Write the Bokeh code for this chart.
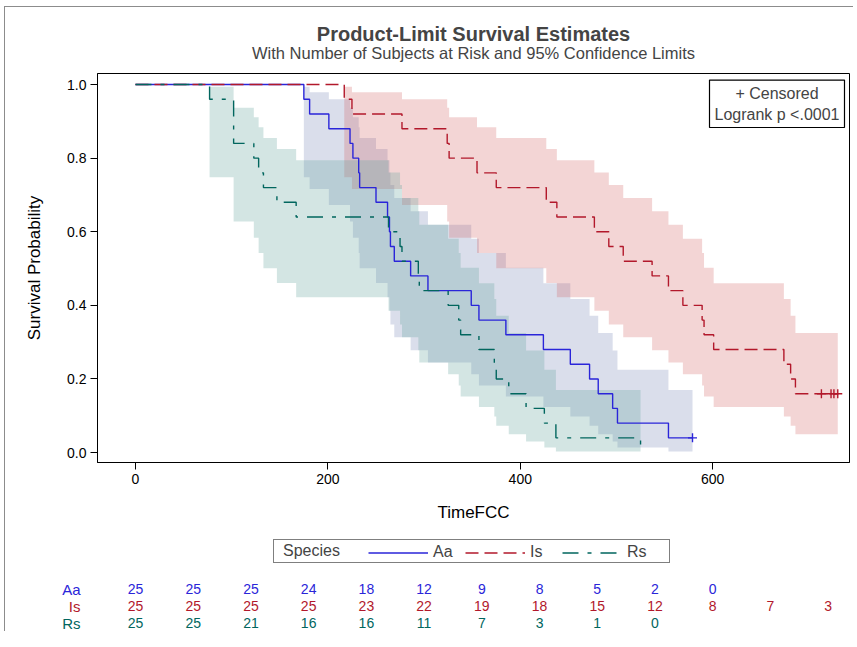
import numpy as np
from bokeh.plotting import figure
from bokeh.models import (Range1d, Title, Legend, LegendItem, Label, FixedTicker,
                          NumeralTickFormatter)
from bokeh.layouts import column
from bokeh.core.properties import value
from bokeh.embed import file_html
from bokeh.resources import INLINE

FONT = "Liberation Sans"

# ---------------- data ----------------
groups = ["Aa", "Is", "Rs"]

# Aa: event times and Kaplan-Meier survival after each event
aa_times = [175, 181, 201, 223, 226, 232, 233, 250, 262, 264, 265, 269,
            286, 304, 349, 357, 385, 424, 452, 472, 481, 496, 501, 554]
aa_surv = [0.96, 0.92, 0.88, 0.84, 0.80, 0.76, 0.72, 0.68, 0.64, 0.60, 0.56, 0.52,
           0.48, 0.44, 0.40, 0.36, 0.32, 0.28, 0.24, 0.20, 0.16, 0.12, 0.08, 0.04]
aa_lower = [0.748, 0.716, 0.673, 0.628, 0.584, 0.542, 0.501, 0.461, 0.422, 0.385, 0.348, 0.313,
            0.278, 0.245, 0.213, 0.182, 0.152, 0.124, 0.098, 0.073, 0.050, 0.030, 0.014, 0.003]
aa_upper = [0.994, 0.979, 0.960, 0.937, 0.911, 0.884, 0.855, 0.825, 0.794, 0.761, 0.727, 0.692,
            0.656, 0.619, 0.581, 0.542, 0.502, 0.460, 0.417, 0.372, 0.325, 0.277, 0.225, 0.170]
aa_cens_t = [579]
aa_cens_s = [0.04]

# Is
is_times = [217, 225, 277, 324, 326, 355, 375, 427, 438, 477, 492, 507,
            537, 554, 569, 589, 591, 601, 674, 681, 686]
is_surv = [0.96, 0.92, 0.88, 0.84, 0.80, 0.76, 0.72, 0.68, 0.64, 0.60, 0.56, 0.52,
           0.48, 0.44, 0.40, 0.36, 0.32, 0.28, 0.24, 0.20, 0.16]
is_lower = [0.748, 0.716, 0.673, 0.628, 0.584, 0.542, 0.501, 0.461, 0.422, 0.385, 0.348, 0.313,
            0.278, 0.245, 0.213, 0.182, 0.152, 0.124, 0.098, 0.073, 0.050]
is_upper = [0.994, 0.979, 0.960, 0.937, 0.911, 0.884, 0.855, 0.825, 0.794, 0.761, 0.727, 0.692,
            0.656, 0.619, 0.581, 0.542, 0.502, 0.460, 0.417, 0.372, 0.325]
is_cens_t = [713, 723, 726, 730]
is_cens_s = [0.16, 0.16, 0.16, 0.16]

# Rs
rs_times = [77, 102, 123, 128, 133, 147, 167, 263, 275, 277, 294, 295,
            325, 336, 338, 357, 373, 375, 388, 406, 425, 437, 525]
rs_surv = [0.96, 0.84, 0.80, 0.76, 0.72, 0.68, 0.64, 0.60, 0.56, 0.52, 0.48, 0.44,
           0.40, 0.36, 0.32, 0.28, 0.24, 0.20, 0.16, 0.12, 0.08, 0.04, 0.0]
rs_lower = [0.748, 0.628, 0.584, 0.542, 0.501, 0.461, 0.422, 0.385, 0.348, 0.313, 0.278,
            0.245, 0.213, 0.182, 0.152, 0.124, 0.098, 0.073, 0.050, 0.030, 0.014, 0.003]
rs_upper = [0.994, 0.937, 0.911, 0.884, 0.855, 0.825, 0.794, 0.761, 0.727, 0.692, 0.656,
            0.619, 0.581, 0.542, 0.502, 0.460, 0.417, 0.372, 0.325, 0.277, 0.225, 0.170]
rs_cens_t = []
rs_cens_s = []

# numbers at risk
risk_times = [0, 60, 120, 180, 240, 300, 360, 420, 480, 540, 600, 660, 720]
aa_risk = [25, 25, 25, 24, 18, 12, 9, 8, 5, 2, 0]
is_risk = [25, 25, 25, 25, 23, 22, 19, 18, 15, 12, 8, 7, 3]
rs_risk = [25, 25, 21, 16, 16, 11, 7, 3, 1, 0]

y_ticks = [0.0, 0.2, 0.4, 0.6, 0.8, 1.0]
x_ticks = [0, 200, 400, 600]

# ---------------- styles ----------------
line_col = {"Aa": "#2A25D9", "Is": "#B2182B", "Rs": "#01665E"}
band_col = {"Aa": "#6F7EB3", "Is": "#D05B5B", "Rs": "#66A5A0"}
band_alpha = {"Aa": 0.26, "Is": 0.26, "Rs": 0.29}
dash = {"Aa": "solid", "Is": "13 6", "Rs": "16 9 4 9"}

series = {
    "Aa": (aa_times, aa_surv, aa_lower, aa_upper, aa_cens_t, aa_cens_s),
    "Is": (is_times, is_surv, is_lower, is_upper, is_cens_t, is_cens_s),
    "Rs": (rs_times, rs_surv, rs_lower, rs_upper, rs_cens_t, rs_cens_s),
}

W = 848
LB, RB = 92, 4

p = figure(width=W, height=523, x_range=Range1d(-39.5, 742.2),
           y_range=Range1d(-0.027, 1.030), output_backend="svg", toolbar_location=None,
           min_border_left=LB, min_border_right=RB, min_border_top=66, min_border_bottom=68,
           title="Product-Limit Survival Estimates")
p.title.align = "center"
p.title.text_font = FONT
p.title.text_font_size = "20px"
p.title.text_font_style = "bold"
p.title.standoff = -31
p.add_layout(Title(text="With Number of Subjects at Risk and 95% Confidence Limits",
                   align="center", text_font=FONT, text_font_size="16.5px",
                   text_font_style="normal", standoff=24), "above")

p.grid.visible = False
p.outline_line_color = "black"
p.outline_line_width = 1

# bands first
for g in groups:
    t, s, lo, hi, ct, cs = series[g]
    end_t = max(ct) if ct else t[-1]
    edges = list(t[:len(lo)]) + [end_t]
    bx, b1, b2 = [], [], []
    for i in range(len(lo)):
        bx += [edges[i], edges[i + 1]]
        b1 += [lo[i], lo[i]]
        b2 += [hi[i], hi[i]]
    p.varea(x=bx, y1=b1, y2=b2, fill_color=band_col[g], fill_alpha=band_alpha[g])

for g in groups:
    t, s, lo, hi, ct, cs = series[g]
    xs = [0] + list(t)
    ys = [1.0] + list(s)
    if ct:
        xs.append(max(ct))
        ys.append(s[-1])
    p.step(x=xs, y=ys, mode="after", line_color=line_col[g], line_width=1.4,
           line_dash=dash[g])
    if ct:
        p.scatter(x=ct, y=cs, marker="cross", size=9, line_color=line_col[g], line_width=1.4)

# axes
p.xaxis.ticker = FixedTicker(ticks=x_ticks)
p.yaxis.ticker = FixedTicker(ticks=y_ticks)
p.yaxis.formatter = NumeralTickFormatter(format="0.0")
p.xaxis.axis_label = "TimeFCC"
p.yaxis.axis_label = "Survival Probability"
for ax in [p.xaxis, p.yaxis]:
    ax.major_tick_out = 7
    ax.major_tick_in = 0
    ax.minor_tick_out = 0
    ax.minor_tick_in = 0
    ax.axis_line_color = "black"
    ax.major_tick_line_color = "black"
    ax.major_label_text_font = FONT
    ax.major_label_text_font_size = "14px"
    ax.major_label_text_color = "black"
    ax.axis_label_text_font = FONT
    ax.axis_label_text_font_size = "17px"
    ax.axis_label_text_font_style = "normal"
    ax.axis_label_text_color = "black"
p.xaxis.major_label_standoff = 4
p.xaxis.axis_label_standoff = 16
p.yaxis.major_label_standoff = 4
p.yaxis.axis_label_standoff = 20

# censored / logrank box
p.add_layout(Label(x=737, y=1.012, text="+ Censored\nLogrank p <.0001", anchor="top_right",
                   text_align="center", text_font=FONT, text_font_size="16px",
                   padding=5, border_line_color="black", border_line_width=1.2,
                   background_fill_color="white"))

# ---------------- species legend ----------------
pl = figure(width=W, height=50, x_range=p.x_range, y_range=Range1d(0, 1),
            output_backend="svg", toolbar_location=None, x_axis_type=None, y_axis_type=None,
            min_border_left=LB, min_border_right=RB, min_border_top=0, min_border_bottom=0)
pl.grid.visible = False
pl.outline_line_color = None
nan = np.array([np.nan])
dummy = {}
for g in groups:
    dummy[g] = pl.line(x=nan, y=nan, line_color=line_col[g], line_width=1.4, line_dash=dash[g])
blank = pl.line(x=nan, y=nan, line_alpha=0)

box_leg = Legend(items=[LegendItem(label="Species", renderers=[blank])],
                 location=(176, 17), orientation="horizontal",
                 border_line_color="black", border_line_width=1.2,
                 label_text_font=FONT, label_text_font_size="16px",
                 glyph_width=7, glyph_height=15, label_height=15, label_standoff=0,
                 label_width=384, padding=2, margin=0)
item_leg = Legend(items=[LegendItem(label=g, renderers=[dummy[g]]) for g in groups],
                  location=(271, 19), orientation="horizontal",
                  border_line_color=None, background_fill_alpha=0,
                  label_text_font=FONT, label_text_font_size="16px",
                  glyph_width=60, glyph_height=15, label_height=15, label_standoff=5,
                  label_width=20, spacing=12, padding=2, margin=0)
pl.add_layout(box_leg)
pl.add_layout(item_leg)

# ---------------- numbers at risk (one row per group) ----------------
risk = {"Aa": aa_risk, "Is": is_risk, "Rs": rs_risk}
rows = []
for g in groups:
    vals = risk[g]
    pr = figure(width=W, height=17, x_range=p.x_range, y_range=[g],
                output_backend="svg", toolbar_location=None, x_axis_type=None,
                min_border_left=LB, min_border_right=RB, min_border_top=0, min_border_bottom=0)
    pr.grid.visible = False
    pr.outline_line_color = None
    pr.text(x=risk_times[:len(vals)], y=[g] * len(vals), text=[str(v) for v in vals],
            text_align="center", text_baseline="middle", text_color=line_col[g],
            text_font=value(FONT), text_font_size="14px")
    ya = pr.yaxis[0]
    ya.axis_line_color = None
    ya.major_tick_line_color = None
    ya.minor_tick_line_color = None
    ya.major_tick_out = 0
    ya.major_tick_in = 0
    ya.major_label_standoff = 17
    ya.major_label_text_color = line_col[g]
    ya.major_label_text_font = FONT
    ya.major_label_text_font_size = "15px"
    rows.append(pr)

layout = column(p, pl, *rows,
                styles={"border-left": "1px solid #8c8c8c", "border-top": "1px solid #8c8c8c",
                        "margin-left": "4px", "margin-top": "6px"})

open("out.html", "w").write(file_html(layout, INLINE))
